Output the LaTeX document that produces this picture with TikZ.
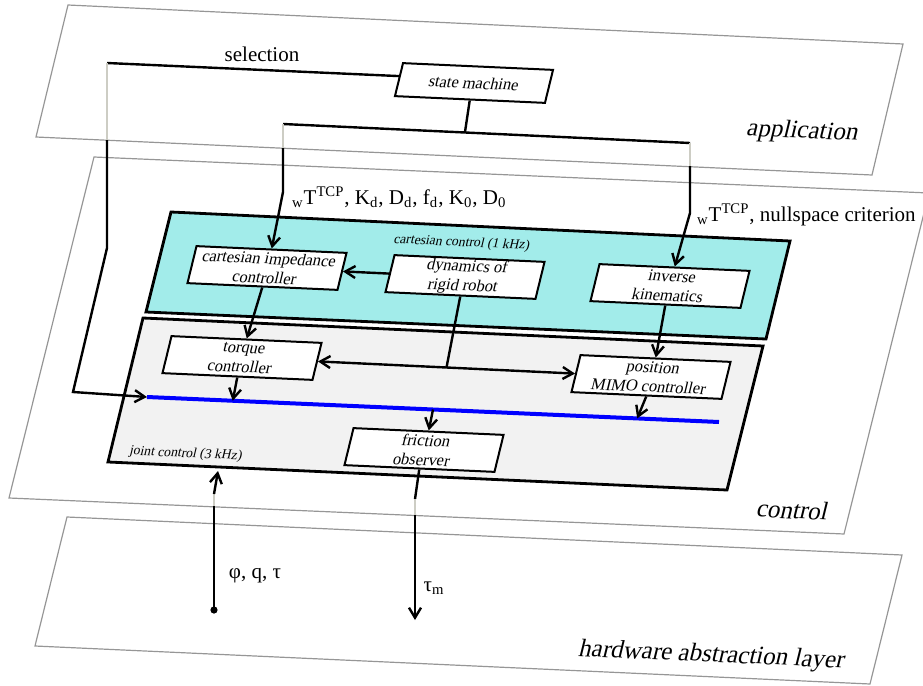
\documentclass[tikz,border=0pt]{standalone}
\usepackage{fontspec}
\setmainfont{Liberation Serif}
\usetikzlibrary{arrows.meta,calc}
\definecolor{cartcyan}{RGB}{162,236,234}
\definecolor{jointgray}{RGB}{242,242,242}
\definecolor{hidgray}{RGB}{205,205,196}
\definecolor{planegray}{RGB}{150,150,150}

\tikzset{
  skew/.style={cm={1,-0.045,0.245,1,(0,0)}},
  plane/.style={draw=planegray, line width=0.6pt},
  region/.style={draw, line width=1.4pt},
  blk/.style={skew, draw, line width=1pt, fill=white, align=center,
    minimum width=75pt, minimum height=18.5pt, inner sep=0.5pt,
    font=\fontsize{8.2}{9.6}\selectfont},
  conn/.style={line width=1.2pt},
  arr/.style={conn, -{Straight Barb[length=5pt,width=6pt]}},
  hid/.style={line width=1.2pt, draw=hidgray},
  tag/.style={font=\fontsize{10.5}{12}\selectfont},
  layer/.style={skew, font=\fontsize{12.5}{14}\selectfont},
  zone/.style={skew, font=\fontsize{6.8}{8}\selectfont}
}

\begin{document}
\begin{tikzpicture}[x=0.5pt,y=-0.5pt]
\useasboundingbox (0,0) rectangle (923,686);
\clip (0,0) rectangle (923,686);

% layers
\draw[plane] (68,5) -- (903,44) -- (872,175) -- (36,137) -- cycle;
\draw[plane] (94,157) -- (929,193) -- (844,534) -- (9,498) -- cycle;
\draw[plane] (67,517) -- (902,555) -- (870,684) -- (35,646) -- cycle;
\node[layer] (lapp) at (803,132) {application};
\node[layer] (lctrl) at (793,510) {control};
\node[layer] (lhal) at (712,656) {hardware abstraction layer};

% control regions
\draw[region, fill=cartcyan] (171,212) -- (790,241) -- (766,339) -- (146,312) -- cycle;
\draw[region, fill=jointgray] (143,318) -- (763,346) -- (727,490) -- (108,462) -- cycle;
\node[zone] (lcart) at (462,243) {cartesian control (1 kHz)};
\node[zone] (ljoint) at (186,454) {joint control (3 kHz)};

% bus
\coordinate (busW) at (147,397);
\coordinate (busE) at (719,422);
\draw[blue, line width=2pt] (busW) -- (busE);
\coordinate (busT) at ($(busW)!0.15!(busE)$);
\coordinate (busF) at ($(busW)!0.5!(busE)$);
\coordinate (busP) at ($(busW)!0.857!(busE)$);

% blocks
\node[blk, minimum height=16.5pt] (sm) at (474,83) {state machine};
\node[blk] (cim) at (267,268) {cartesian impedance\\controller};
\node[blk] (dyn) at (465,277) {dynamics of\\rigid robot};
\node[blk] (ik) at (670,286) {inverse\\kinematics};
\node[blk] (tq) at (242,358) {torque\\controller};
\node[blk] (pos) at (651,377) {position\\MIMO controller};
\node[blk] (fr) at (424,450) {friction\\observer};

% free ends
\coordinate (selA) at (107,63);
\coordinate (selG) at (107,140);
\coordinate (selB) at (107,248);
\coordinate (selC) at (73,392);
\coordinate (jn) at (465,132);
\coordinate (refL) at (283,124);
\coordinate (refR) at (690,143);
\coordinate (refLg) at (283,148);
\coordinate (refLk) at (283,192);
\coordinate (refRg) at (690,166);
\coordinate (refRk) at (690,213);
\coordinate (tauK) at (415,499);
\coordinate (tauG) at (415,515);
\coordinate (tauE) at (415,620);
\coordinate (phiS) at (214,610);
\coordinate (phiG) at (214,506);
\coordinate (phiK) at (214,494);
\coordinate (phiE) at (218,471);
\coordinate (mid) at ($(tq.east)!0.5!(pos.west)$);

% application to control
\draw[conn] ($(sm.north west)!0.4!(sm.south west)$) -- (selA);
\draw[hid] (selA) -- (selG);
\draw[arr] (selG) -- (selB) -- (selC) -- (busW);
\draw[conn] (sm.south) -- (jn);
\draw[conn] (refL) -- (refR);
\draw[hid] (refL) -- (refLg);
\draw[hid] (refR) -- (refRg);
\draw[arr] (refLg) -- (refLk) -- (cim.north);
\draw[arr] (refRg) -- (refRk) -- (ik.north);

% inside control
\draw[arr] (dyn.west) -- (cim.east);
\draw[arr] (cim.south) -- (tq.north);
\draw[arr] (ik.south) -- (pos.north);
\draw[conn, {Straight Barb[length=5pt,width=6pt]}-{Straight Barb[length=5pt,width=6pt]}] (tq.east) -- (pos.west);
\draw[conn] (dyn.south) -- (mid);
\draw[arr] (tq.south) -- (busT);
\draw[arr] (pos.south) -- (busP);
\draw[arr] (busF) -- (fr.north);

% hardware
\draw[conn] (fr.south) -- (tauK);
\draw[hid] (tauK) -- (tauG);
\draw[arr] (tauG) -- (tauE);
\fill (phiS) circle[radius=1.8pt];
\draw[conn] (phiS) -- (phiG);
\draw[hid] (phiG) -- (phiK);
\draw[arr] (phiK) -- (phiE);

% signal labels
\node[tag] (tsel) at (262,54) {selection};
\node[tag, anchor=west] (tcart) at (285,197) {\textsubscript{w}T\textsuperscript{TCP}, K\textsubscript{d}, D\textsubscript{d}, f\textsubscript{d}, K\textsubscript{0}, D\textsubscript{0}};
\node[tag, anchor=west] (tnull) at (690,215) {\textsubscript{w}T\textsuperscript{TCP}, nullspace criterion};
\node[tag] (tphi) at (255,576) {φ, q, τ};
\node[tag] (ttau) at (434,588) {τ\textsubscript{m}};
\end{tikzpicture}
\end{document}
